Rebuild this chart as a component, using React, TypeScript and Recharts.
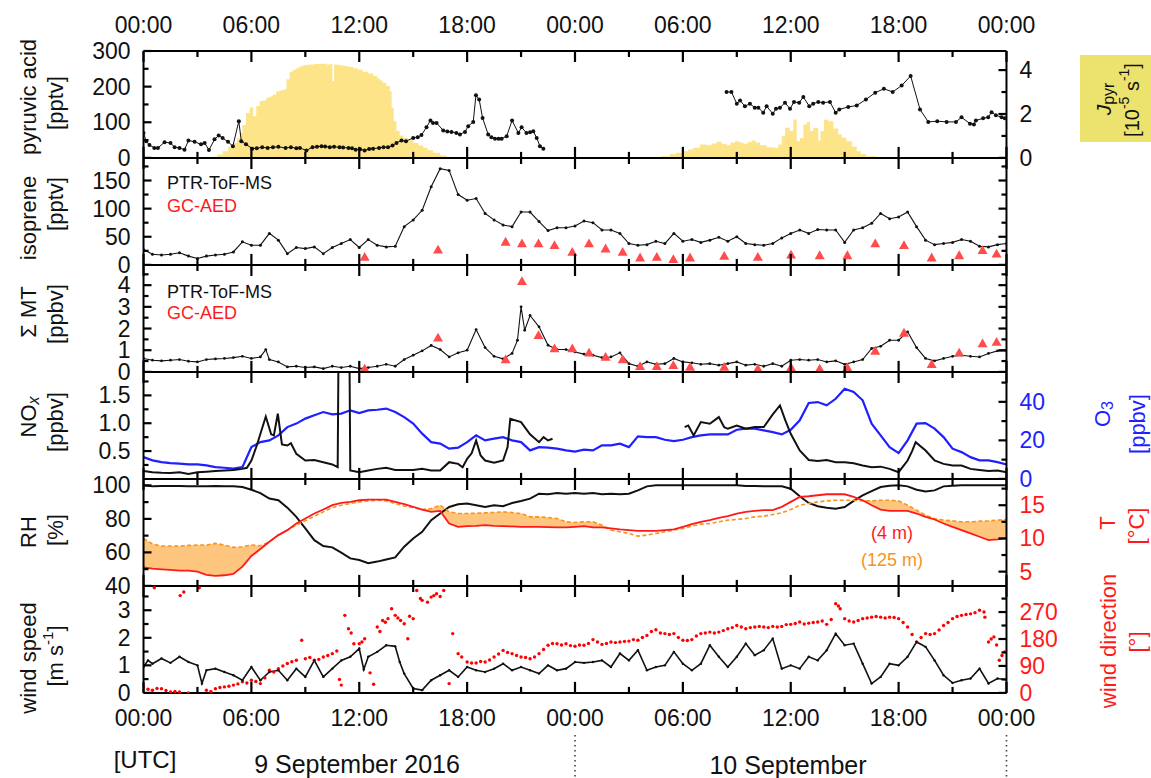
import React from 'react';
import { ComposedChart, Line, Area, Scatter, XAxis, YAxis } from 'recharts';

const FONT = '"Liberation Sans", Arial, Helvetica, sans-serif';

// ---------------- data ----------------
const halfHours = Array.from({ length: 97 }, (_, i) => i / 2);
const xTicks = [0, 3, 6, 9, 12, 15, 18, 21, 24, 27, 30, 33, 36, 39, 42, 45, 48];

const pyruvicDay1 = [[0,70],[0.15,47],[0.33,36],[0.6,28],[0.8,28],[1.17,44],[1.5,42],[1.73,30],[2.0,28],[2.28,23],[2.5,49],[2.84,45],[3.2,38],[3.4,42],[3.64,22],[3.95,52],[4.18,63],[4.4,56],[4.7,45],[4.97,33],[5.3,103],[5.44,47],[5.7,38],[6.05,26],[6.3,27],[6.6,30],[6.9,28],[7.2,30],[7.5,31],[7.9,28],[8.2,30],[8.5,27],[8.7,28],[9.06,21],[9.4,30],[9.65,31],[9.9,33],[10.1,32],[10.36,30],[10.6,31],[10.9,30],[11.1,29],[11.4,28],[11.6,27],[11.8,23],[12.05,24],[12.3,21],[12.55,25],[12.77,26],[13.1,28],[13.35,30],[13.6,30],[13.85,35],[14.07,42],[14.35,49],[14.6,47],[15.0,56],[15.25,58],[15.46,64],[15.74,86],[15.96,105],[16.1,98],[16.3,98],[16.67,77],[16.9,74],[17.13,73],[17.4,70],[17.6,66],[17.88,73],[18.06,89],[18.34,101],[18.49,176],[18.67,164],[18.86,112],[19.17,66],[19.35,58],[19.55,54],[19.75,54],[19.92,54],[20.2,61],[20.5,105],[20.85,70],[21.03,86],[21.3,70],[21.5,72],[21.68,75],[21.87,56],[22.05,33],[22.24,26]];
const pyruvicDay2 = [[32.43,185],[32.7,185],[33.0,152],[33.18,161],[33.45,145],[33.73,152],[34.0,141],[34.2,141],[34.47,127],[34.66,145],[35.0,124],[35.18,138],[35.4,141],[35.68,155],[35.96,138],[36.18,157],[36.47,155],[36.7,171],[37.03,145],[37.25,152],[37.53,157],[37.8,155],[38.18,157],[38.5,127],[38.7,136],[39.2,143],[39.67,147],[40.18,164],[40.7,183],[41.18,194],[41.67,185],[42.17,203],[42.67,230],[43.19,136],[43.65,101],[44.15,103],[44.67,101],[45.19,101],[45.5,114],[45.97,96],[46.19,94],[46.3,105],[46.7,111],[46.98,114],[47.17,128],[47.41,120],[47.73,114],[47.9,111]];

const jPyr = [[3.5,0],[3.8,0.05],[4.1,0.15],[4.4,0.3],[4.7,0.48],[4.97,0.68],[5.2,0.9],[5.35,1.14],[5.5,1.5],[5.7,2.05],[5.9,2.3],[6.1,1.9],[6.27,2.36],[6.46,2.59],[6.65,2.62],[6.83,2.74],[7.0,2.8],[7.2,2.89],[7.38,3.04],[7.57,3.07],[7.76,3.12],[7.95,3.58],[8.13,3.93],[8.3,4.02],[8.5,4.11],[8.7,4.17],[8.87,4.22],[9.05,4.24],[9.24,4.26],[9.5,4.28],[9.8,4.29],[10.17,4.26],[10.4,4.29],[10.5,3.5],[10.6,4.26],[10.85,4.22],[11.1,4.19],[11.4,4.14],[11.66,4.08],[11.9,4.01],[12.2,3.93],[12.5,3.84],[12.77,3.73],[13.0,3.62],[13.14,3.53],[13.3,3.42],[13.5,3.27],[13.7,3.04],[13.8,2.28],[13.92,1.67],[14.07,1.22],[14.25,1.02],[14.44,0.91],[14.7,0.8],[15.0,0.68],[15.3,0.56],[15.56,0.46],[15.8,0.35],[16.1,0.23],[16.5,0.11],[16.85,0.03],[17.04,0],[28.35,0],[28.8,0.08],[29.28,0.18],[29.6,0.24],[30.02,0.3],[30.3,0.38],[30.58,0.46],[30.95,0.61],[31.32,0.58],[31.6,0.66],[31.88,0.73],[32.15,0.65],[32.43,0.58],[32.65,0.7],[32.9,0.76],[33.15,0.7],[33.36,0.64],[33.6,0.72],[33.83,0.79],[34.05,0.7],[34.29,0.58],[34.66,0.49],[35.03,0.46],[35.31,0.61],[35.5,0.99],[35.68,1.37],[35.96,1.22],[36.14,1.75],[36.33,0.76],[36.51,0.91],[36.7,1.52],[36.89,1.64],[37.07,1.22],[37.25,1.37],[37.53,0.79],[37.66,1.22],[37.85,1.74],[38.09,1.67],[38.37,1.34],[38.64,1.07],[38.85,0.92],[39.1,0.76],[39.4,0.52],[39.67,0.3],[39.9,0.18],[40.2,0.08],[40.78,0]];

const isoprene = [27.5,19,17.5,19,21.5,15.6,11.5,15.6,17.5,19,23,41,35,35,56,44,20,31,29,32,20,31,38,45,31,45,35,32,33,68,80,97,139,171,168,125,115,118,91.5,80,71,68,94,94,77,61,66,66,69,
  78,75,62,62,56,38,35,36,42,38,56,42,45,40,44,49,42,50,38,36,35,38,48,56,62,56,63,62,62,40,62,66,74,91.5,82,85,94,68,44,36,38,40,45,42,33,32,36,38];
const gcTimes = [12.3,16.38,20.14,21.05,21.97,22.86,23.85,24.78,25.7,26.65,27.62,28.55,29.47,30.4,32.3,34.17,36.02,37.61,39.15,40.7,42.3,43.84,45.37,46.67,47.45];
const gcIsoprene = [14,27,41,38,38,35,23,38,29,23,13,14,10,13,16,14,18,17,17,38,35,13,17,26,20];

const monoterpenes = [0.62,0.54,0.51,0.54,0.57,0.49,0.46,0.57,0.6,0.62,0.66,0.72,0.62,0.69,0.57,0.46,0.23,0.26,0.2,0.23,0.15,0.26,0.2,0.26,0.15,0.2,0.26,0.35,0.26,0.57,0.77,0.97,1.22,1.03,0.69,0.88,1.0,1.95,1.12,0.72,0.6,0.85,3.0,2.6,2.08,1.23,1.03,1.03,0.92,
  0.82,0.77,0.66,0.69,0.88,0.38,0.26,0.46,0.35,0.38,0.62,0.46,0.42,0.35,0.38,0.31,0.38,0.46,0.31,0.35,0.26,0.38,0.26,0.54,0.57,0.54,0.57,0.46,0.51,0.35,0.46,0.57,1.08,1.18,1.46,1.46,1.85,1.12,0.62,0.51,0.62,0.72,0.77,0.72,0.69,0.85,0.97,0.97];
const monoterpenesExtra = [[6.8,1.03],[20.8,1.46],[21.2,1.92]];
const gcMonoterpenes = [0.15,1.58,0.57,4.18,1.69,1.08,1.08,0.88,0.69,0.57,0.26,0.26,0.31,0.23,0.23,0.15,0.2,0.15,0.2,0.97,1.8,0.35,0.88,1.31,1.38];

const noxDay1 = [[0,0.14],[0.5,0.12],[1,0.11],[1.5,0.105],[2,0.12],[2.5,0.09],[3,0.12],[3.5,0.13],[4,0.14],[4.5,0.15],[5,0.16],[5.5,0.18],[5.75,0.2],[6,0.33],[6.3,0.6],[6.8,1.12],[7.1,0.8],[7.25,0.78],[7.47,1.17],[7.7,0.62],[8.0,0.6],[8.2,0.64],[8.5,0.45],[9,0.33],[9.5,0.34],[10,0.3],[10.5,0.26],[10.8,0.21],[10.85,2.5],[11.45,2.5],[11.5,0.15],[12,0.12],[12.5,0.15],[13,0.18],[13.5,0.2],[14,0.16],[14.5,0.16],[15,0.16],[15.5,0.18],[16,0.15],[16.5,0.15],[17,0.3],[17.5,0.27],[17.75,0.21],[18,0.36],[18.25,0.46],[18.5,0.69],[18.75,0.42],[19,0.33],[19.5,0.29],[20,0.33],[20.25,0.57],[20.4,1.08],[21,1.02],[21.5,0.8],[22,0.66],[22.25,0.75],[22.5,0.69],[22.75,0.72]];
const noxDay2 = [[30.1,0.93],[30.3,0.96],[30.6,0.78],[31,1.02],[31.5,0.99],[32,1.11],[32.3,0.93],[32.5,0.9],[33,0.96],[33.5,0.9],[34,0.93],[34.5,0.93],[35,1.16],[35.4,1.32],[35.7,1.05],[36,0.81],[36.5,0.51],[37,0.34],[37.5,0.32],[38,0.34],[38.5,0.3],[39,0.3],[39.5,0.28],[40,0.24],[40.5,0.21],[41,0.22],[41.5,0.18],[42,0.12],[42.5,0.33],[42.75,0.5],[42.95,0.66],[43.5,0.51],[44,0.33],[44.5,0.27],[45,0.24],[45.5,0.24],[46,0.18],[46.5,0.16],[47,0.14],[47.5,0.15],[48,0.12]];

const ozone = [11.3,9.6,8.7,8.2,7.9,7.5,7.5,7.0,6.1,5.8,5.3,6.1,16.5,19.1,20.0,22.6,26.9,28.7,31.3,33.0,34.7,33.5,33.9,35.6,34.2,35.6,35.9,36.5,34.7,32.1,28.7,23.5,19.1,18.3,15.7,16.2,19.1,22.6,20.0,20.9,21.7,20.0,19.1,14.8,16.5,16.2,15.7,14.8,14.2,
  15.2,14.8,17.4,17.4,18.3,16.5,22.1,21.7,21.7,20.3,19.6,20.3,21.7,22.6,23.1,23.1,23.1,25.5,26.1,26.1,25.2,24.3,23.1,25.5,30.4,39.4,39.9,38.2,41.6,46.8,45.1,40.8,28.7,22.6,16.5,13.4,20.0,28.7,29.0,26.1,21.7,15.7,13.9,11.3,9.6,9.6,8.7,7.5];

const relHumidity = [100,99.4,99.6,99.6,99.6,99.5,99.4,99.5,99.6,99.5,99.4,99,97.4,95.4,92.1,91.1,86.7,81.2,74.3,67.3,63.8,63,59.8,56.4,55.4,53.5,54.5,55.8,57,63.4,68.3,72.3,79.2,83.2,87.1,88.7,89.1,88.1,87.1,88.1,87.5,89.5,90.7,92.1,95,94.7,95.4,95,95.4,
  95,95.4,94.7,95,94.7,95,97,99.4,100,100,100,100,100,100,100,100,100,100,99.6,99.6,99.4,99.4,99.4,98,93.5,89.5,87.5,86.7,86.1,87.1,90.7,94,96.6,99,99.8,100,99.4,97.4,96.4,97,99.4,99.8,100,100,100,100,100,100];

const temp4m = [5.65,5.45,5.35,5.25,5.15,5.15,5.0,4.5,4.35,4.45,4.65,5.75,7.35,8.4,9.5,10.5,11.25,12.25,13.0,13.75,14.35,15.0,15.35,15.5,15.75,15.85,15.85,15.85,15.5,15.15,14.75,14.35,14.0,14.15,12.25,11.75,11.85,11.9,12.0,11.9,11.85,11.8,11.75,11.75,11.75,11.7,11.65,11.65,11.75,
  11.85,11.65,11.65,11.5,11.35,11.25,11.15,11.15,11.15,11.25,11.35,11.75,12.15,12.5,12.75,13.1,13.35,13.75,14.0,14.15,14.25,14.25,14.75,15.5,16.25,16.35,16.5,16.65,16.65,16.65,16.25,15.75,15.0,14.35,14.15,14.15,14.15,13.75,13.25,12.85,12.25,11.75,11.25,10.75,10.25,9.75,9.85,10.0];
const temp125m = [10.0,9.15,8.85,8.85,8.85,8.95,9.0,9.0,9.25,9.0,8.65,8.75,9.0,8.9,9.5,10.5,11.25,12.0,12.65,13.35,14.0,14.65,15.0,15.25,15.5,15.65,15.75,15.65,15.25,14.85,14.65,14.35,14.5,15.0,14.0,13.75,13.75,13.8,13.85,13.9,14.0,13.9,13.75,13.25,13.25,13.15,13.0,12.5,12.4,
  12.5,12.5,12.0,11.25,11.0,10.75,10.35,10.5,10.75,11.0,11.25,11.5,11.85,12.15,12.25,12.5,12.75,12.85,13.0,13.25,13.35,13.6,13.85,14.35,15.0,15.25,15.5,15.65,15.75,15.75,15.75,15.65,15.65,15.75,15.75,15.65,15.0,14.25,13.5,13.0,12.75,12.65,12.5,12.5,12.6,12.65,12.75,12.85];

const windSpeed = [0.94,1.06,1.25,1.09,1.31,1.12,1.0,0.82,0.88,0.76,0.64,0.46,0.94,0.46,0.76,0.82,0.46,0.88,0.58,1.18,0.58,0.88,1.18,1.31,1.61,1.31,1.49,1.73,1.69,0.7,0.16,0.1,0.46,0.64,0.82,0.58,0.94,0.82,0.76,0.88,1.06,0.82,0.94,0.82,0.7,1.0,0.82,0.88,1.12,
  1.09,1.12,1.18,0.94,1.43,1.18,1.55,0.82,0.94,1.0,1.49,1.06,0.82,1.06,1.73,1.31,0.94,1.31,1.79,1.37,1.55,1.97,0.88,1.0,0.88,1.31,1.18,1.55,2.15,1.73,1.79,1.06,0.34,0.58,1.06,1.0,1.31,1.85,1.67,1.18,0.64,0.36,0.46,0.52,0.88,0.34,0.52,0.48];
const windSpeedExtra = [[0.25,1.18],[3.25,0.34],[12.25,0.85],[14.25,1.12]];

const windDirection = [[0,20],[0.25,12],[0.5,9],[0.75,15],[1,14],[1.25,8],[1.5,3],[1.75,5],[2,3],[2.5,0],[3.5,9],[3.75,5],[4,14],[4.25,18],[4.5,20],[4.75,22],[5,26],[5.25,30],[5.5,37],[5.75,33],[6,42],[6.25,38],[6.5,31],[6.75,50],[7,76],[7.25,70],[7.5,81],[7.75,90],[8,98],[8.25,104],[8.5,109],[8.8,176],[9,114],[9.25,118],[9.5,109],[9.75,112],[10,120],[10.25,125],[10.5,131],[10.75,140],[10.9,45],[11,26],[11.2,259],[11.4,214],[11.55,200],[11.7,164],[12,164],[12.15,170],[12.3,181],[12.6,67],[12.8,29],[13,220],[13.15,205],[13.3,242],[13.45,236],[13.6,248],[13.8,281],[14,259],[14.15,250],[14.3,242],[14.5,231],[14.7,181],[14.8,256],[15,248],[15.2,342],[15.4,315],[15.5,309],[15.8,303],[16,320],[16.15,325],[16.3,331],[16.5,322],[16.7,342],[17,31],[17.2,198],[17.5,131],[17.7,120],[18,103],[18.25,100],[18.5,100],[18.75,105],[19,103],[19.25,110],[19.5,120],[19.75,130],[20,142],[20.25,135],[20.5,131],[20.75,125],[21,120],[21.25,118],[21.5,114],[21.75,120],[22,131],[22.25,145],[22.5,159],[22.75,165],[23,164],[23.25,160],[23.5,164],[23.75,158],[24,156],[0.6,351],[2.04,325],[2.24,337],[3.1,351],
  [24.25,160],[24.5,159],[24.75,165],[25,178],[25.25,170],[25.5,162],[25.75,165],[26,170],[26.25,168],[26.5,170],[26.75,172],[27,173],[27.25,178],[27.5,176],[27.75,185],[28,192],[28.25,205],[28.5,211],[28.75,200],[29,198],[29.25,195],[29.5,198],[29.75,185],[30,176],[30.25,175],[30.5,178],[30.75,190],[31,198],[31.25,200],[31.5,203],[31.75,200],[32,203],[32.25,208],[32.5,214],[32.75,218],[33,225],[33.25,220],[33.5,214],[33.75,218],[34,220],[34.25,222],[34.5,220],[34.75,218],[35,222],[35.25,220],[35.5,222],[35.75,228],[36,229],[36.25,232],[36.5,237],[36.75,230],[37,233],[37.25,235],[37.5,237],[37.75,240],[38,229],[38.25,245],[38.5,298],[38.65,290],[38.75,281],[39,248],[39.25,240],[39.5,237],[39.75,242],[40,248],[40.25,250],[40.5,253],[40.75,255],[41,253],[41.25,250],[41.5,253],[41.75,252],[42,248],[42.25,235],[42.5,220],[42.75,195],[43,170],[43.25,185],[43.5,198],[43.75,195],[44,198],[44.25,210],[44.5,225],[44.75,235],[45,248],[45.25,255],[45.5,259],[45.75,262],[46,264],[46.25,268],[46.5,276],[46.75,270],[46.8,253],[47,170],[47.15,180],[47.3,187],[47.45,160],[47.6,109],[47.75,125],[47.9,137]];

// ---------------- series builders ----------------
const fromGrid = (vals: number[]) => halfHours.map((t, i) => ({ t, v: vals[i] }));
const fromPairs = (pairs: number[][]) => pairs.map(([t, v]) => ({ t, v }));
const byTime = (a: any, b: any) => a.t - b.t;

const pyruvicData = [...fromPairs(pyruvicDay1), { t: 27, v: null }, ...fromPairs(pyruvicDay2)];
const jPyrData = fromPairs(jPyr);
const isopreneData = fromGrid(isoprene);
const gcIsopreneData = gcTimes.map((t, i) => ({ t, v: gcIsoprene[i] }));
const mtData = [...fromGrid(monoterpenes), ...fromPairs(monoterpenesExtra)].sort(byTime);
const gcMtData = gcTimes.map((t, i) => ({ t, v: gcMonoterpenes[i] }));
const noxData = [...fromPairs(noxDay1), { t: 26, v: null }, ...fromPairs(noxDay2)];
const o3Data = fromGrid(ozone);
const rhData = fromGrid(relHumidity);
const t4Data = fromGrid(temp4m);
const t125Data = fromGrid(temp125m);
const inversionData = halfHours.map((t, i) => ({ t, r: [temp4m[i], Math.max(temp4m[i], temp125m[i])] }));
const wsData = [...fromGrid(windSpeed), ...fromPairs(windSpeedExtra)].sort(byTime);
const wdData = fromPairs(windDirection);

// ---------------- layout ----------------
const W = 1151;
const H = 778;
const PLOT_L = 143.5;
const PLOT_R = 1006.5;
const PANEL_TOP = 51;
const PANEL_H = 106.9;
const PAD = 45;
const XH = 20;
const YW = 60;
const AXIS_LINE = { stroke: '#000', strokeWidth: 2 };

const RED = '#ff1a1a';
const ORANGE = '#f7941d';
const BLUE = '#1f1fff';
const TRI = '#ff4d4d';

const fmtTime = (v: number) => `${String(v % 24).padStart(2, '0')}:00`;

const X_TOP_MARGIN = 23;    // label baseline 18 px above the axis
const X_BOTTOM_MARGIN = 38; // label baseline 33 px below the axis
const Y_MARGIN = 17.5;      // label 13 px outside the axis

function makeXTick(side: 'top' | 'bottom', showLabels: boolean, dateMarks: boolean) {
  return (props: any) => {
    const { x, y, payload } = props;
    const v = payload.value;
    const major = v % 6 === 0;
    const axisY = side === 'top' ? y + 18 : y - 33;
    const dir = side === 'top' ? 1 : -1;
    return (
      <g>
        <line x1={x} x2={x} y1={axisY} y2={axisY + dir * (major ? 11 : 6)} stroke="#000" strokeWidth={2.2} />
        {showLabels && major && (
          <text x={x} y={y} textAnchor="middle" fontSize={23} fontFamily={FONT} fill="#111">
            {fmtTime(v)}
          </text>
        )}
        {dateMarks && (v === 24 || v === 48) && (
          <line x1={x} x2={x} y1={axisY + 42} y2={axisY + 88} stroke="#444" strokeWidth={1.6} strokeDasharray="1.6 3.4" />
        )}
      </g>
    );
  };
}

function makeYTick(side: 'left' | 'right', majors: number[], showLabels: boolean, color: string, fmt?: (v: number) => string) {
  return (props: any) => {
    const { x, y, payload } = props;
    const v = payload.value;
    const major = majors.some((m) => Math.abs(m - v) < 1e-9);
    const axisX = side === 'left' ? x + 13 : x - 13;
    const dir = side === 'left' ? 1 : -1;
    return (
      <g>
        <line x1={axisX} x2={axisX + dir * (major ? 8 : 5)} y1={y} y2={y} stroke="#000" strokeWidth={2.2} />
        {showLabels && major && (
          <text x={x} y={y} textAnchor={side === 'left' ? 'end' : 'start'} dominantBaseline="central" fontSize={23} fontFamily={FONT} fill={color}>
            {fmt ? fmt(v) : String(v)}
          </text>
        )}
      </g>
    );
  };
}

const xAxes = (first: boolean, last: boolean) => [
  <XAxis key="xb" xAxisId="b" type="number" dataKey="t" domain={[0, 48]} allowDataOverflow ticks={xTicks} interval={0} height={XH} orientation="bottom" tickLine={false} tickSize={-5} tickMargin={X_BOTTOM_MARGIN} axisLine={AXIS_LINE} tick={makeXTick('bottom', last, last)} />,
  <XAxis key="xt" xAxisId="t" type="number" dataKey="t" domain={[0, 48]} allowDataOverflow ticks={xTicks} interval={0} height={XH} orientation="top" tickLine={false} tickSize={-5} tickMargin={X_TOP_MARGIN} axisLine={AXIS_LINE} tick={makeXTick('top', first, false)} />,
];

const yAxis = (id: string, side: 'left' | 'right', domain: number[], ticks: number[], majors: number[], showLabels: boolean, color: string, fmt?: (v: number) => string) => (
  <YAxis key={id} yAxisId={id} orientation={side} type="number" domain={domain} allowDataOverflow ticks={ticks} interval={0} width={YW} tickLine={false} tickSize={-4.5} tickMargin={Y_MARGIN} axisLine={AXIS_LINE} tick={makeYTick(side, majors, showLabels, color, fmt)} />
);

const Tri = (props: any) => {
  const { cx, cy } = props;
  if (cx == null || cy == null) return <g />;
  return <polygon points={`${cx},${cy - 5} ${cx - 5},${cy + 3.8} ${cx + 5},${cy + 3.8}`} fill={TRI} />;
};
const RedDot = (props: any) => {
  const { cx, cy } = props;
  if (cx == null || cy == null) return <g />;
  return <circle cx={cx} cy={cy} r={1.7} fill="#ff0000" />;
};

const EXTRA_BOTTOM = [0, 0, 0, 0, 0, 50];
const chartH = (i: number) => PANEL_H + 2 * PAD + EXTRA_BOTTOM[i];
const panelStyle = (i: number): React.CSSProperties => ({ position: 'absolute', left: 0, top: PANEL_TOP + i * PANEL_H - PAD, width: W, height: chartH(i) });
const margin = (i: number) => ({ top: PAD - XH, bottom: PAD - XH + EXTRA_BOTTOM[i], left: PLOT_L - YW, right: W - PLOT_R - YW });

const rot = (x: number, y: number) => `translate(${x},${y}) rotate(-90)`;

function Title({ x, y, color = '#111', size = 22, children }: any) {
  return (
    <text transform={rot(x, y)} textAnchor="middle" dominantBaseline="central" fontSize={size} fontFamily={FONT} fill={color}>
      {children}
    </text>
  );
}

export default function App() {
  return (
    <div style={{ position: 'absolute', left: 0, top: 0, width: W, height: H, background: '#fff', overflow: 'hidden' }}>
      {/* Panel 1: pyruvic acid + J_pyr */}
      <div style={panelStyle(0)}>
        <ComposedChart width={W} height={chartH(0)} margin={margin(0)}>
          {xAxes(true, false)}
          {yAxis('l', 'left', [0, 300], [0, 50, 100, 150, 200, 250, 300], [0, 100, 200, 300], true, '#111')}
          {yAxis('r', 'right', [0, 4.87], [0, 1, 2, 3, 4], [0, 2, 4], true, '#111')}
          <Area data={jPyrData} xAxisId="t" yAxisId="r" dataKey="v" type="stepAfter" stroke="none" fill="#fde489" fillOpacity={1} isAnimationActive={false} />
          <Line data={pyruvicData} xAxisId="b" yAxisId="l" dataKey="v" type="linear" stroke="#111" strokeWidth={1} dot={{ r: 2, fill: '#111', stroke: 'none' }} connectNulls={false} isAnimationActive={false} />
        </ComposedChart>
      </div>

      {/* Panel 2: isoprene */}
      <div style={panelStyle(1)}>
        <ComposedChart width={W} height={chartH(1)} margin={margin(1)}>
          {xAxes(false, false)}
          {yAxis('l', 'left', [0, 190], [0, 25, 50, 75, 100, 125, 150, 175], [0, 50, 100, 150], true, '#111')}
          {yAxis('r', 'right', [0, 190], [0, 25, 50, 75, 100, 125, 150, 175], [0, 50, 100, 150], false, '#111')}
          <Line data={isopreneData} xAxisId="b" yAxisId="l" dataKey="v" type="linear" stroke="#111" strokeWidth={1.1} dot={{ r: 1.5, fill: '#111', stroke: 'none' }} isAnimationActive={false} />
          <Scatter data={gcIsopreneData} xAxisId="t" yAxisId="r" dataKey="v" shape={Tri} isAnimationActive={false} />
        </ComposedChart>
      </div>

      {/* Panel 3: monoterpenes */}
      <div style={panelStyle(2)}>
        <ComposedChart width={W} height={chartH(2)} margin={margin(2)}>
          {xAxes(false, false)}
          {yAxis('l', 'left', [0, 4.93], [0, 0.5, 1, 1.5, 2, 2.5, 3, 3.5, 4, 4.5], [0, 1, 2, 3, 4], true, '#111')}
          {yAxis('r', 'right', [0, 4.93], [0, 0.5, 1, 1.5, 2, 2.5, 3, 3.5, 4, 4.5], [0, 1, 2, 3, 4], false, '#111')}
          <Line data={mtData} xAxisId="b" yAxisId="l" dataKey="v" type="linear" stroke="#111" strokeWidth={1.1} dot={{ r: 1.4, fill: '#111', stroke: 'none' }} isAnimationActive={false} />
          <Scatter data={gcMtData} xAxisId="t" yAxisId="r" dataKey="v" shape={Tri} isAnimationActive={false} />
        </ComposedChart>
      </div>

      {/* Panel 4: NOx + O3 */}
      <div style={panelStyle(3)}>
        <ComposedChart width={W} height={chartH(3)} margin={margin(3)}>
          {xAxes(false, false)}
          {yAxis('l', 'left', [0, 1.92], [0.25, 0.5, 0.75, 1, 1.25, 1.5, 1.75], [0.5, 1, 1.5], true, '#111', (v) => v.toFixed(1))}
          {yAxis('r', 'right', [0, 55.5], [0, 10, 20, 30, 40, 50], [0, 20, 40], true, BLUE)}
          <Line data={o3Data} xAxisId="t" yAxisId="r" dataKey="v" type="linear" stroke={BLUE} strokeWidth={2.2} dot={false} isAnimationActive={false} />
          <Line data={noxData} xAxisId="b" yAxisId="l" dataKey="v" type="linear" stroke="#111" strokeWidth={2} dot={false} connectNulls={false} isAnimationActive={false} />
        </ComposedChart>
      </div>

      {/* Panel 5: RH + T */}
      <div style={panelStyle(4)}>
        <ComposedChart width={W} height={chartH(4)} margin={margin(4)}>
          {xAxes(false, false)}
          {yAxis('l', 'left', [40, 103.8], [40, 50, 60, 70, 80, 90, 100], [40, 60, 80, 100], true, '#111')}
          {yAxis('r', 'right', [2.85, 18.95], [5, 7.5, 10, 12.5, 15, 17.5], [5, 10, 15], true, RED)}
          <Area data={inversionData} xAxisId="t" yAxisId="r" dataKey="r" type="linear" stroke="none" fill="#fdc57e" fillOpacity={1} isAnimationActive={false} />
          <Line data={rhData} xAxisId="b" yAxisId="l" dataKey="v" type="linear" stroke="#111" strokeWidth={2} dot={false} isAnimationActive={false} />
          <Line data={t125Data} xAxisId="t" yAxisId="r" dataKey="v" type="linear" stroke={ORANGE} strokeWidth={1.6} strokeDasharray="4 2.5" dot={false} isAnimationActive={false} />
          <Line data={t4Data} xAxisId="t" yAxisId="r" dataKey="v" type="linear" stroke={RED} strokeWidth={1.8} dot={false} isAnimationActive={false} />
        </ComposedChart>
      </div>

      {/* Panel 6: wind */}
      <div style={panelStyle(5)}>
        <ComposedChart width={W} height={chartH(5)} margin={margin(5)}>
          {xAxes(false, true)}
          {yAxis('l', 'left', [0, 3.88], [0, 0.5, 1, 1.5, 2, 2.5, 3, 3.5], [0, 1, 2, 3], true, '#111')}
          {yAxis('r', 'right', [0, 357], [0, 45, 90, 135, 180, 225, 270, 315], [0, 90, 180, 270], true, RED)}
          <Scatter data={wdData} xAxisId="t" yAxisId="r" dataKey="v" shape={RedDot} isAnimationActive={false} />
          <Line data={wsData} xAxisId="b" yAxisId="l" dataKey="v" type="linear" stroke="#111" strokeWidth={1.6} dot={{ r: 1.2, fill: '#111', stroke: 'none' }} isAnimationActive={false} />
        </ComposedChart>
      </div>

      {/* Titles and annotations */}
      <svg width={W} height={H} style={{ position: 'absolute', left: 0, top: 0, pointerEvents: 'none' }}>
        <Title x={28} y={97}>pyruvic acid</Title>
        <Title x={55} y={103}>[pptv]</Title>
        <Title x={28} y={218}>isoprene</Title>
        <Title x={55} y={204}>[pptv]</Title>
        <Title x={28} y={312}>Σ MT</Title>
        <Title x={55} y={314}>[ppbv]</Title>
        <Title x={28} y={417}>NO<tspan dy={5} fontSize={16} fontStyle="italic">x</tspan></Title>
        <Title x={55} y={422}>[ppbv]</Title>
        <Title x={28} y={532}>RH</Title>
        <Title x={55} y={530}>[%]</Title>
        <Title x={28} y={658}>wind speed</Title>
        <Title x={55} y={656}>[m s<tspan dy={-8} fontSize={15}>-1</tspan><tspan dy={8}>]</tspan></Title>

        <rect x={1080} y={55} width={71} height={87} fill="#ebe36e" />
        <Title x={1103} y={99} size={21}><tspan fontStyle="italic">J</tspan><tspan dy={5} fontSize={16}>pyr</tspan></Title>
        <Title x={1132} y={100} size={20}>[10<tspan dy={-8} fontSize={14}>-5</tspan><tspan dy={8}> s</tspan><tspan dy={-8} fontSize={14}>-1</tspan><tspan dy={8}>]</tspan></Title>

        <Title x={1102} y={414} color={BLUE}>O<tspan dy={5} fontSize={16}>3</tspan></Title>
        <Title x={1137} y={424} color={BLUE}>[ppbv]</Title>
        <Title x={1107} y={523} color={RED}>T</Title>
        <Title x={1136} y={526} color={RED}>[°C]</Title>
        <Title x={1108} y={641} color={RED}>wind direction</Title>
        <Title x={1137} y={642} color={RED}>[°]</Title>

        <text x={167} y={183} dominantBaseline="central" fontSize={18} fontFamily={FONT} fill="#111">PTR-ToF-MS</text>
        <text x={167} y={206} dominantBaseline="central" fontSize={18} fontFamily={FONT} fill={RED}>GC-AED</text>
        <text x={167} y={292} dominantBaseline="central" fontSize={18} fontFamily={FONT} fill="#111">PTR-ToF-MS</text>
        <text x={167} y={313} dominantBaseline="central" fontSize={18} fontFamily={FONT} fill={RED}>GC-AED</text>

        <text x={892} y={533} textAnchor="middle" dominantBaseline="central" fontSize={18} fontFamily={FONT} fill={RED}>(4 m)</text>
        <text x={892} y={560} textAnchor="middle" dominantBaseline="central" fontSize={18} fontFamily={FONT} fill={ORANGE}>(125 m)</text>

        <text x={145} y={759} textAnchor="middle" dominantBaseline="central" fontSize={24} fontFamily={FONT} fill="#111">[UTC]</text>
        <text x={357} y={764} textAnchor="middle" dominantBaseline="central" fontSize={25} fontFamily={FONT} fill="#111">9 September 2016</text>
        <text x={788} y={765} textAnchor="middle" dominantBaseline="central" fontSize={25} fontFamily={FONT} fill="#111">10 September</text>
      </svg>
    </div>
  );
}
